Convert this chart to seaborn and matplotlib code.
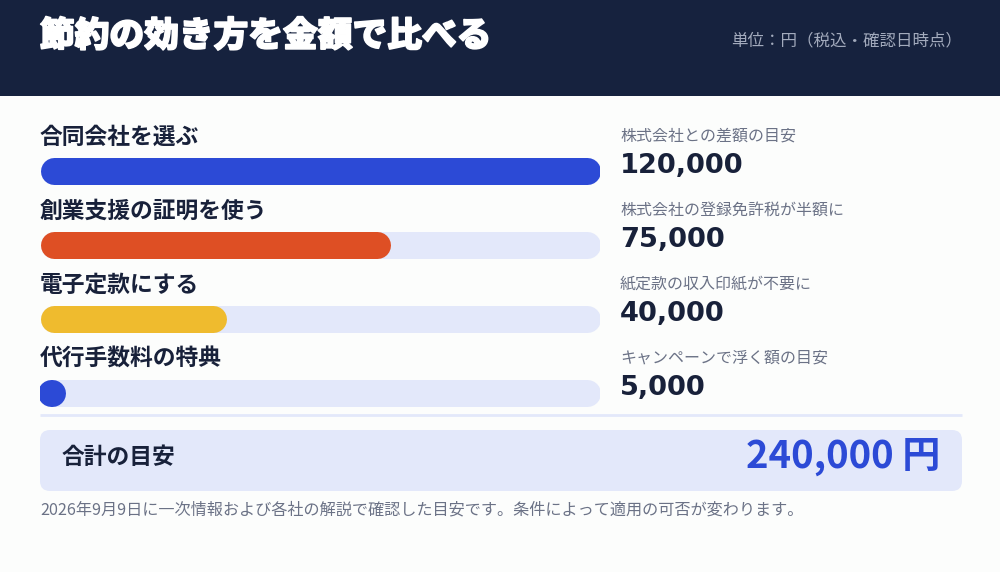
import numpy as np
import pandas as pd
import seaborn as sns
from matplotlib import pyplot as plt
from matplotlib import patheffects as pe
from matplotlib.patches import FancyBboxPatch, Rectangle

# data
labels = ["合同会社を選ぶ", "創業支援の証明を使う", "電子定款にする", "代行手数料の特典"]
notes = ["株式会社との差額の目安", "株式会社の登録免許税が半額に", "紙定款の収入印紙が不要に", "キャンペーンで浮く額の目安"]
values = [120000, 75000, 40000, 5000]
bar_colors = ["#2c4ad6", "#de4f24", "#efbb2e", "#2c4ad6"]
max_value = 120000

title = "節約の効き方を金額で比べる"
unit_text = "単位：円（税込・確認日時点）"
total_label = "合計の目安"
footnote = "2026年9月9日に一次情報および各社の解説で確認した目安です。条件によって適用の可否が変わります。"

sns.set_theme(style="white")
plt.rcParams['font.family'] = ['Noto Sans CJK JP', 'DejaVu Sans']

W, H = 1000, 572
bg_col = "#fcfdfc"
navy = "#16223e"
track_col = "#e3e8fa"
dark = "#18213a"
gray = "#6b7286"

fig = plt.figure(figsize=(10, 5.72), dpi=100, facecolor=bg_col)

# background / decoration axes in pixel coordinates
bg = fig.add_axes([0, 0, 1, 1])
bg.set_xlim(0, W)
bg.set_ylim(H, 0)
bg.axis("off")
bg.add_patch(Rectangle((0, 0), W, 96, fc=navy, ec="none"))
bg.text(40, 36, title, color="white", fontsize=25, fontweight="black", va="center", ha="left",
        path_effects=[pe.withStroke(linewidth=1.2, foreground="white")])
bg.text(962, 41, unit_text, color="#a3abbd", fontsize=11.9, va="center", ha="right")

row_gap = 74
for i in range(len(labels)):
    bg.text(40, 137 + row_gap * i, labels[i], color=dark, fontsize=16.4, fontweight="bold", va="center")
    bg.text(620, 136 + row_gap * i, notes[i], color=gray, fontsize=11.5, va="center")
    bg.text(620, 166 + row_gap * i, f"{values[i]:,}", color=dark, fontsize=19.6, fontweight="heavy",
            family="DejaVu Sans", va="center")

bg.plot([40, 962], [415, 415], color=track_col, lw=2, solid_capstyle="butt")
bg.add_patch(FancyBboxPatch((40, 430), 922, 61, boxstyle="round,pad=0,rounding_size=10",
                            fc=track_col, ec="none"))
bg.text(62, 458, total_label, color=dark, fontsize=16.4, fontweight="bold", va="center")
bg.text(941, 456, f"{sum(values):,} 円", color="#2c4ad6", fontsize=27.5, fontweight="bold",
        va="center", ha="right")
bg.text(40, 510, footnote, color=gray, fontsize=11.65, va="center")

# bars axes: x from 40px to 600px, rows centred 74px apart
ax = fig.add_axes([40 / W, 1 - 430 / H, 560 / W, 296 / H])
ax.patch.set_alpha(0)
bar_px = 27
bar_h = bar_px / row_gap

df = pd.DataFrame({"label": labels, "value": values, "track": [max_value] * len(labels)})
sns.barplot(data=df, x="track", y="label", orient="h", color=track_col, width=bar_h,
            saturation=1, ax=ax)
sns.barplot(data=df, x="value", y="label", hue="label", orient="h", palette=bar_colors,
            width=bar_h, saturation=1, legend=False, ax=ax)
ax.set_xlim(0, max_value)
ax.set_ylim(len(labels) - 0.5, -0.5)
ax.axis("off")

# turn each bar into a pill: a thick line with round caps over the same extent
x_per_px = max_value / 560
r = bar_px / 2 * x_per_px
for p in list(ax.patches):
    x, y, w, h = p.get_x(), p.get_y(), p.get_width(), p.get_height()
    yc = y + h / 2
    if w >= 2 * r:
        x0, x1 = x + r, x + w - r
    else:
        # short bar: keep a tiny segment so the round caps still draw a dot
        x0, x1 = x + w / 2 - 0.3 * x_per_px, x + w / 2 + 0.3 * x_per_px
    ax.plot([x0, x1], [yc, yc], color=p.get_facecolor(), lw=bar_px * 0.72,
            solid_capstyle="round", zorder=p.get_zorder())
    p.remove()

fig.savefig("out.png", dpi=100, facecolor=bg_col)
